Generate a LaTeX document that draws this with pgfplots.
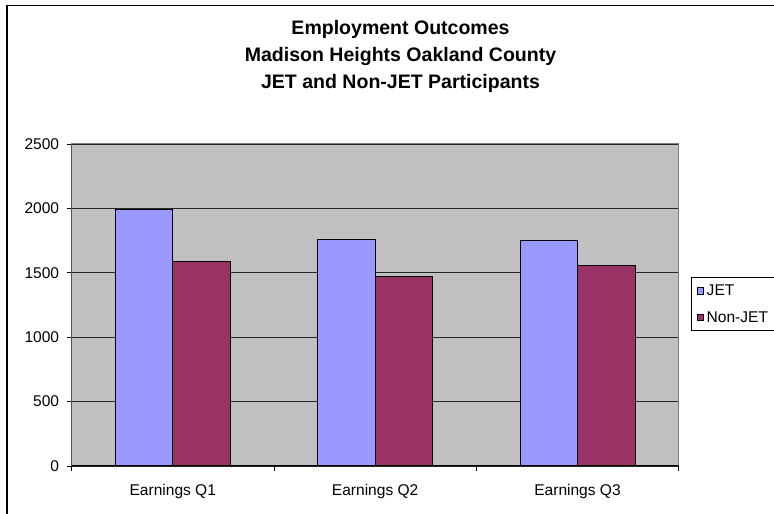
\documentclass[border=0pt]{standalone}
\usepackage{fontspec}
\setmainfont{Liberation Sans}
\usepackage{pgfplots}
\pgfplotsset{compat=1.18}
\definecolor{jet}{HTML}{9999FF}
\definecolor{nonjet}{HTML}{993366}
\definecolor{plotbg}{HTML}{C0C0C0}
\definecolor{frame}{HTML}{808080}
\begin{document}
\begin{tikzpicture}[x=1bp,y=1bp]
\useasboundingbox (0,0) rectangle (774,514);
\fill[white] (0,0) rectangle (774,514);
\draw[black, line width=1.3bp] (7,-5) -- (7,508.7) -- (790,508.7);
\begin{axis}[
  at={(71.6bp,48bp)}, anchor=south west,
  scale only axis, width=607.1bp, height=322bp,
  ybar=0pt, bar width=57.5bp,
  xmin=-0.5, xmax=2.5, ymin=0, ymax=2500,
  ytick={0,500,...,2500},
  xtick={0,1,2}, xticklabels={Earnings Q1,Earnings Q2,Earnings Q3},
  xtick style={draw=none},
  extra x ticks={-0.5,0.5,1.5,2.5}, extra x tick labels={},
  extra x tick style={xtick style={draw=black, line width=0.8bp}, grid=none},
  tick align=outside, major tick length=5bp,
  ytick style={draw=black, line width=0.8bp},
  xtick pos=bottom, ytick pos=left,
  ymajorgrids, grid style={draw=black!85, line width=0.8bp},
  axis line style={draw=frame, line width=1bp},
  axis background/.style={fill=plotbg},
  tick label style={font=\fontsize{15.6}{18}\selectfont},
  /pgf/number format/assume math mode=true,
  /pgf/number format/1000 sep={},
  yticklabel style={xshift=-4bp},
  xticklabel style={yshift=-10bp},
  title={Employment Outcomes\\Madison Heights Oakland County\\JET and Non-JET Participants},
  title style={font=\bfseries\fontsize{19.6}{26.7}\selectfont, align=center, at={(0.5418,1.2536)}, anchor=center},
  legend style={at={(1.0208,0.586)}, anchor=north west, draw=black, line width=0.8bp, fill=white,
    inner xsep=5bp, inner ysep=5bp, row sep=10.5bp, font=\fontsize{15.6}{18}\selectfont, legend cell align=left,
    nodes={inner xsep=2.8bp}},
  legend image code/.code={\draw[#1, draw=black, line width=0.8bp] (0bp,-3.2bp) rectangle (6.4bp,3.2bp);},
]
\addplot[fill=jet, draw=black, line width=1bp] coordinates {(0,1988) (1,1758) (2,1748)};
\addlegendentry{JET}
\addplot[fill=nonjet, draw=black, line width=1bp] coordinates {(0,1587) (1,1470) (2,1556)};
\addlegendentry{Non-JET}
\draw[black, line width=1bp] (rel axis cs:0,1) -- (rel axis cs:0,0) -- (rel axis cs:1,0);
\end{axis}
\end{tikzpicture}
\end{document}
